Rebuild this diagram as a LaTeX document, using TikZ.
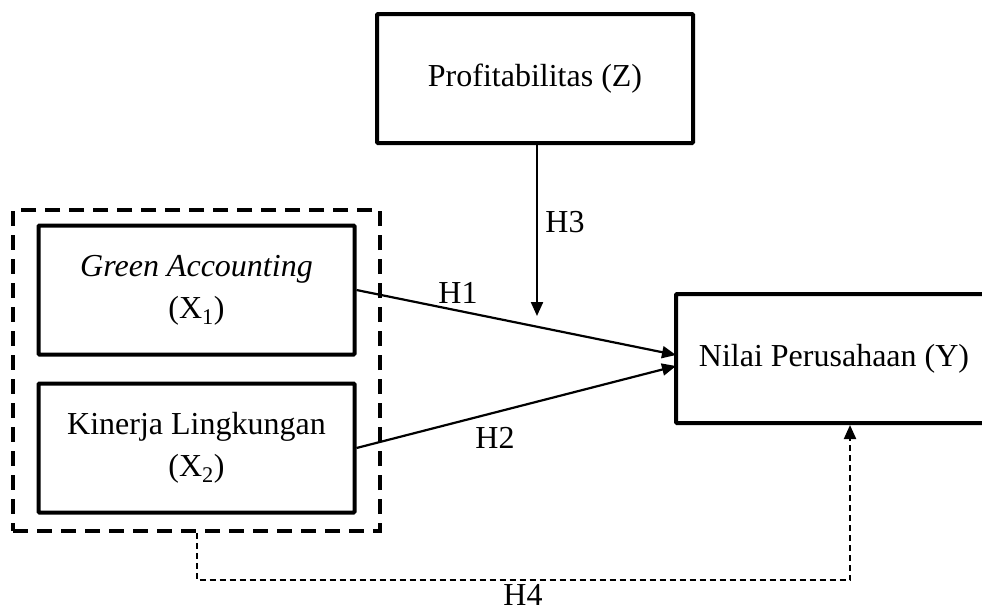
\documentclass[tikz,border=0pt]{standalone}
\usepackage{fontspec}
\setmainfont{Liberation Serif}
\usetikzlibrary{positioning,arrows.meta}

\begin{document}
\begin{tikzpicture}[x=1pt, y=-1pt,
  var/.style  = {draw, line width=4pt, rounded corners=1pt, align=center,
                 minimum width=316pt, minimum height=129pt,
                 font=\fontsize{32}{42}\selectfont},
  grp/.style  = {draw, line width=4pt, dash pattern=on 15pt off 9pt,
                 minimum width=367pt, minimum height=321pt},
  hyp/.style  = {line width=2.2pt, -{Triangle[length=14pt,width=12pt]}},
  mod/.style  = {hyp, line width=2pt, dash pattern=on 6pt off 4pt},
  lbl/.style  = {inner sep=1pt, font=\fontsize{32}{36}\selectfont}]

\useasboundingbox (0,0) rectangle (982,611);
\clip (0,0) rectangle (982,611);

% --- variables --------------------------------------------------------
\node[grp] (G)  at (196.5,370.5) {};
\node[var] (Z)  at (535,78.5)    {Profitabilitas (Z)};
\node[var] (X1) at (196.5,290)   {\textit{Green Accounting}\\(X\textsubscript{1})};
\node[var] (X2) at (196.5,448)   {Kinerja Lingkungan\\(X\textsubscript{2})};
\node[var] (Y)  at (834,358.5)   {Nilai Perusahaan (Y)};

% --- end points -------------------------------------------------------
\coordinate (y1) at (676,355);
\coordinate (y2) at (676,366);
\coordinate (z1) at (537,316);
\coordinate (h4) at (850,580);

% --- paths ------------------------------------------------------------
\draw[hyp] (X1.east) -- (y1);
\draw[hyp] (X2.east) -- (y2);
\draw[hyp] (Z.south -| z1) -- (z1);
\draw[mod] (G.south) |- (h4) -- (h4 |- Y.south);

% --- labels -----------------------------------------------------------
\node[lbl] (l1) at (458,293) {H1};
\node[lbl] (l2) at (495,438) {H2};
\node[lbl] (l3) at (565,222) {H3};
\node[lbl] (l4) at (523,595) {H4};
\end{tikzpicture}
\end{document}
